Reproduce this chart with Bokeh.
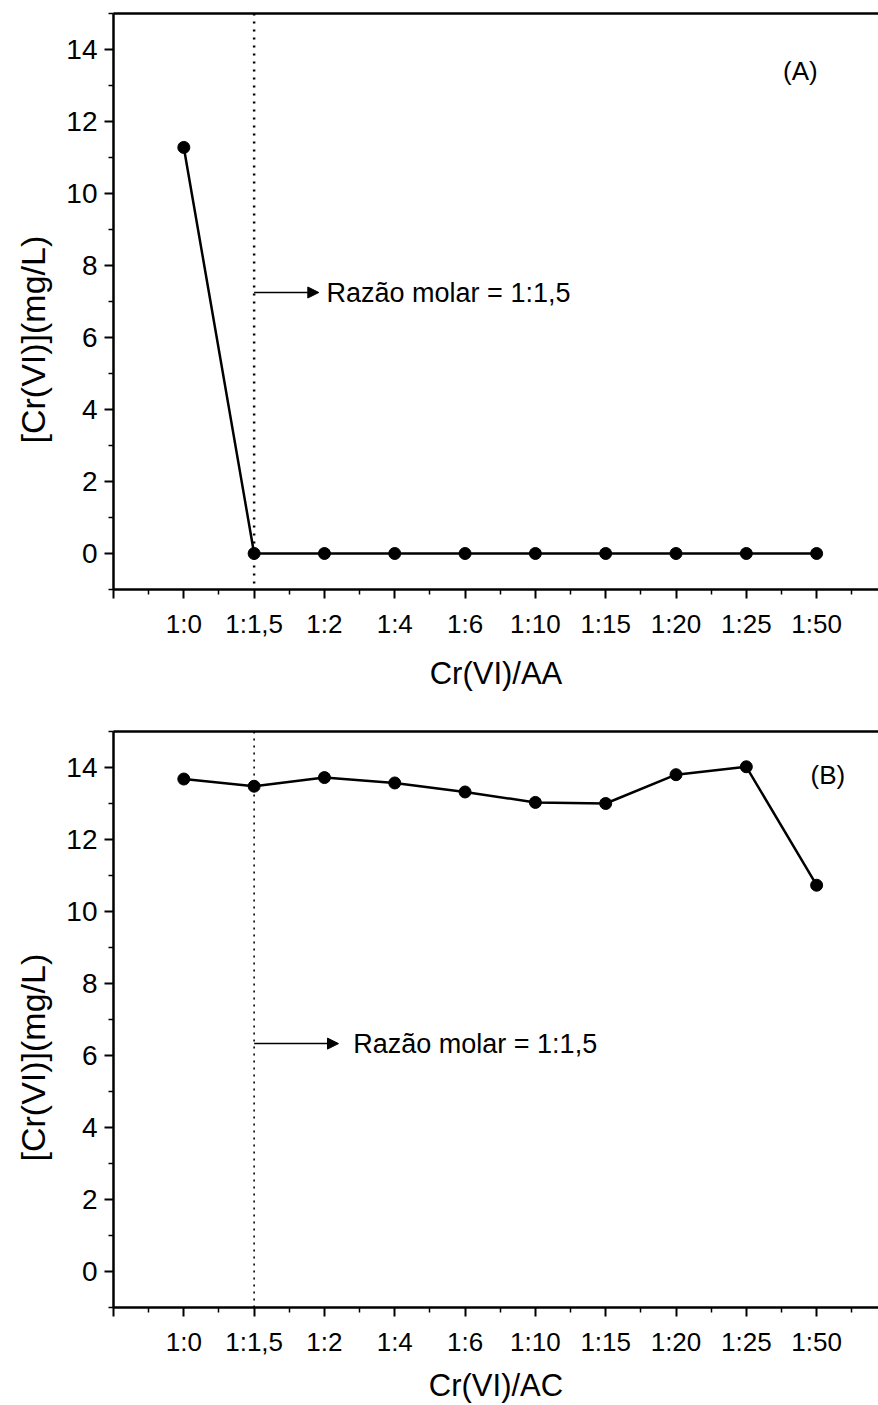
from bokeh.plotting import figure
from bokeh.layouts import column
from bokeh.models import FixedTicker, Range1d, Label, Arrow, NormalHead, Span, LinearAxis, Title
from bokeh.embed import file_html
from bokeh.resources import INLINE

# ---- data ----
ratios = ["1:0", "1:1,5", "1:2", "1:4", "1:6", "1:10", "1:15", "1:20", "1:25", "1:50"]
cr_aa = [11.28, 0, 0, 0, 0, 0, 0, 0, 0, 0]
cr_ac = [13.68, 13.48, 13.72, 13.57, 13.32, 13.03, 13.00, 13.80, 14.02, 10.73]
y_ticks = [0, 2, 4, 6, 8, 10, 12, 14]
y_minor = [-1, 1, 3, 5, 7, 9, 11, 13, 15]
marker_ratio = "1:1,5"
note_text = "Razão molar = 1:1,5"
y_label = "[Cr(VI)](mg/L)"

FONT = "Liberation Sans"


def make_panel(values, xlabel, tag, tag_x, tag_y, note_y, arrow_end, text_x,
               top_border, bottom_border, dash, dash_w, xlab_standoff):
    xs = list(range(1, len(ratios) + 1))
    p = figure(frame_width=765, frame_height=576,
               min_border_left=113, min_border_right=0,
               min_border_top=top_border, min_border_bottom=bottom_border,
               x_range=Range1d(0, 10.88), y_range=Range1d(-1, 15),
               output_backend="svg", toolbar_location=None)
    p.grid.visible = False
    p.outline_line_color = None
    p.background_fill_color = "white"
    p.border_fill_color = "white"

    # x axis
    xt = list(range(0, 12))
    p.xaxis.ticker = FixedTicker(ticks=xt, minor_ticks=[i + 0.5 for i in range(0, 12)])
    overrides = {i: "" for i in xt}
    for i, r in enumerate(ratios):
        overrides[i + 1] = r
    p.xaxis.major_label_overrides = overrides
    p.xaxis.axis_label = xlabel

    # y axis
    p.yaxis.ticker = FixedTicker(ticks=y_ticks, minor_ticks=y_minor)

    for ax in (p.xaxis[0], p.yaxis[0]):
        ax.axis_line_width = 2.5
        ax.axis_line_color = "black"
        ax.major_tick_line_color = "black"
        ax.minor_tick_line_color = "black"
        ax.major_tick_line_width = 2
        ax.minor_tick_line_width = 1.5
        ax.major_tick_in = 0
        ax.minor_tick_in = 0
        ax.major_tick_out = 9
        ax.minor_tick_out = 5
        ax.major_label_text_font = FONT
        ax.major_label_text_color = "black"
        ax.axis_label_text_font = FONT
        ax.axis_label_text_font_style = "normal"
        ax.axis_label_text_color = "black"

    p.xaxis.major_label_text_font_size = "26px"
    p.xaxis.major_label_standoff = 10
    p.xaxis.axis_label_text_font_size = "31px"
    p.xaxis.axis_label_standoff = xlab_standoff
    p.yaxis.major_label_text_font_size = "28px"
    p.yaxis.major_label_standoff = 7

    # rotated y label as a side title (lets it sit off-centre like the original)
    ylab = Title(text=y_label, align="left", offset=146, text_font=FONT,
                 text_font_size="34px", text_font_style="normal", text_color="black",
                 standoff=23)
    p.add_layout(ylab, "left")

    # top frame line
    top = LinearAxis(ticker=FixedTicker(ticks=[]), major_label_text_font_size="0px",
                     axis_line_width=2.5, axis_line_color="black",
                     major_tick_out=0, minor_tick_out=0, major_label_standoff=0)
    p.add_layout(top, "above")

    # dotted vertical marker
    mx = ratios.index(marker_ratio) + 1
    p.add_layout(Span(location=mx, dimension="height", line_color="black",
                      line_dash=dash, line_width=dash_w))

    p.line(xs, values, line_color="black", line_width=2.5)
    p.scatter(xs, values, size=12, fill_color="black", line_color="black")

    p.add_layout(Arrow(end=NormalHead(size=11, fill_color="black", line_color="black"),
                       x_start=mx, y_start=note_y, x_end=arrow_end, y_end=note_y,
                       line_color="black", line_width=1.5))
    p.add_layout(Label(x=text_x, y=note_y, text=note_text, text_font=FONT,
                       text_font_size="27px", text_baseline="middle", text_align="left",
                       text_color="black"))
    p.add_layout(Label(x=tag_x, y=tag_y, text=tag, text_font=FONT,
                       text_font_size="26px", text_baseline="middle", text_align="center",
                       text_color="black"))
    return p


pA = make_panel(cr_aa, "Cr(VI)/AA", "(A)", 9.77, 13.39, 7.25, 2.92, 3.03, 13, 129, "2 6", 2.5, 14)
pB = make_panel(cr_ac, "Cr(VI)/AC", "(B)", 10.16, 13.78, 6.33, 3.2, 3.41, 13, 98, "2 5", 1.6, 8)

layout = column(pA, pB, spacing=0)
open("out.html", "w").write(file_html(layout, INLINE))
